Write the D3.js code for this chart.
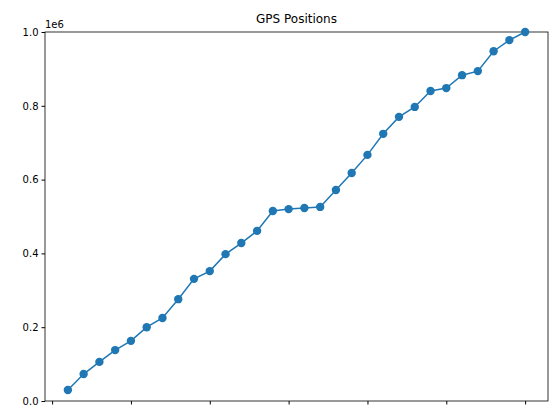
<!DOCTYPE html>
<html><head><meta charset="utf-8">
<script src="https://cdn.jsdelivr.net/npm/d3@7"></script>
<style>body{margin:0;background:#fff}text{font-family:"DejaVu Sans",sans-serif}</style>
</head><body><svg id="chart" width="550" height="408"></svg>
<script>
var xs = d3.range(1, 31);
var positions = [30000, 73000, 106000, 138000, 163000, 200000, 225000, 276000, 331000, 352000,
  398000, 428000, 461000, 515000, 520000, 523000, 526000, 572000, 618000, 667000,
  724000, 770000, 797000, 840000, 848000, 883000, 894000, 948000, 978000, 1000000];
var xTicks = [0, 5, 10, 15, 20, 25, 30];
var yTicks = [0, 200000, 400000, 600000, 800000, 1000000];

var svg = d3.select("#chart");
var m = {left: 45, right: 548, top: 32, bottom: 401};
var x = d3.scaleLinear().domain([-0.45, 31.45]).range([m.left, m.right]);
var y = d3.scaleLinear().domain([0, 1000000]).range([m.bottom, m.top]);

svg.append("g").attr("transform", "translate(0," + m.bottom + ")")
  .call(d3.axisBottom(x).tickValues(xTicks).tickFormat("").tickSizeOuter(0).tickSize(3.5));
svg.append("g").attr("transform", "translate(" + m.left + ",0)")
  .call(d3.axisLeft(y).tickValues(yTicks).tickFormat(d => (d / 1e6).toFixed(1)).tickSizeOuter(0).tickSize(3.5))
  .selectAll("text").attr("font-size", 10).attr("fill", "#000");
svg.selectAll(".domain").remove();
svg.append("rect").attr("x", m.left).attr("y", m.top).attr("width", m.right - m.left)
  .attr("height", m.bottom - m.top).attr("fill", "none").attr("stroke", "#000").attr("stroke-width", 0.8);

svg.append("text").attr("x", m.left).attr("y", m.top - 4).attr("font-size", 10).text("1e6");
svg.append("text").attr("x", (m.left + m.right) / 2).attr("y", m.top - 9)
  .attr("text-anchor", "middle").attr("font-size", 12).text("GPS Positions");

var data = xs.map((d, i) => [d, positions[i]]);
svg.append("path").datum(data).attr("fill", "none").attr("stroke", "#1f77b4").attr("stroke-width", 1.5)
  .attr("d", d3.line().x(d => x(d[0])).y(d => y(d[1])));
svg.selectAll("circle").data(data).enter().append("circle")
  .attr("cx", d => x(d[0])).attr("cy", d => y(d[1])).attr("r", 4.2).attr("fill", "#1f77b4");
</script></body></html>
